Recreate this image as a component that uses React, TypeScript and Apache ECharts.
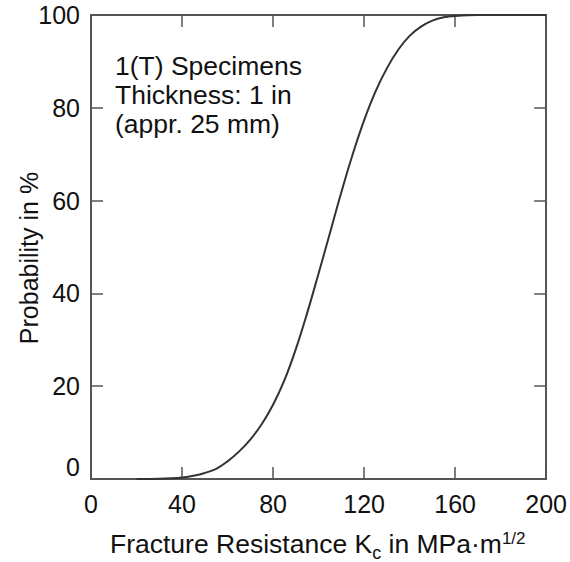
import React, { useEffect, useRef } from "react";
import * as echarts from "echarts";

const kcValues = [20, 30, 40, 45, 50, 55, 60, 65, 70, 75, 80, 85, 90, 95, 100, 105, 110, 115, 120, 125, 130, 135, 140, 145, 150, 155, 160, 170, 200];
const probValues = [0, 0.05, 0.3, 0.7, 1.3, 2.2, 3.8, 5.9, 8.5, 11.8, 16.0, 21.3, 28.0, 35.8, 44.3, 53.0, 61.8, 70.0, 77.3, 83.5, 88.5, 92.5, 95.5, 97.5, 98.8, 99.5, 99.8, 100, 100];
const annotationLines = ["1(T) Specimens", "Thickness: 1 in", "(appr. 25 mm)"];
const xTitleParts = ["Fracture Resistance K", "c", " in MPa·m", "1/2"];
const yTitle = "Probability in %";

const FONT = '"Liberation Sans", Arial, Helvetica, sans-serif';

function measure(text: string, size: number): number {
  const c = document.createElement("canvas").getContext("2d");
  if (!c) return text.length * size * 0.55;
  c.font = `${size}px ${FONT}`;
  return c.measureText(text).width;
}

export default function App() {
  const ref = useRef<HTMLDivElement>(null);
  useEffect(() => {
    if (!ref.current) return;
    const chart = echarts.init(ref.current, null, { renderer: "svg" });
    const axisColor = "#555";
    const baseSize = 26.5;
    const subSize = 18;
    const supSize = 17;
    const x0 = 110;
    const w0 = measure(xTitleParts[0], baseSize);
    const w1 = measure(xTitleParts[1], subSize);
    const w2 = measure(xTitleParts[2], baseSize);
    const baseY = 553 - 0.35 * baseSize;
    const axisLine = { onZero: false, lineStyle: { color: axisColor, width: 2 } };
    const axisTick = { inside: true, length: 12, lineStyle: { color: axisColor, width: 1.5 } };
    const xAxisCommon = {
      type: "value",
      min: 0,
      max: 200,
      interval: 40,
      splitLine: { show: false },
      axisLine,
      axisTick,
    };
    const yAxisCommon = {
      type: "value",
      min: 0,
      max: 100,
      interval: 20,
      splitLine: { show: false },
      axisLine,
      axisTick,
    };
    const textStyle = (size: number) => ({ fontSize: size, fontFamily: FONT, fill: "#111" });
    chart.setOption({
      animation: false,
      grid: { left: 91, top: 15, right: 15, bottom: 83 },
      xAxis: [
        { ...xAxisCommon, position: "bottom", axisLabel: { fontSize: 25, color: "#111", fontFamily: FONT, margin: 12 } },
        { ...xAxisCommon, position: "top", axisLabel: { show: false } },
      ],
      yAxis: [
        {
          ...yAxisCommon,
          position: "left",
          axisLabel: { fontSize: 25, color: "#111", fontFamily: FONT, margin: 11, verticalAlignMinLabel: "bottom" },
        },
        { ...yAxisCommon, position: "right", axisLabel: { show: false } },
      ],
      series: [
        {
          type: "line",
          xAxisIndex: 0,
          yAxisIndex: 0,
          data: kcValues.map((k, i) => [k, probValues[i]]),
          smooth: 0.4,
          showSymbol: false,
          lineStyle: { color: "#333", width: 2 },
        },
      ],
      graphic: [
        ...annotationLines.map((t, i) => ({
          type: "text",
          x: 115,
          y: 65.5 + i * 29,
          style: { text: t, ...textStyle(26.5), verticalAlign: "middle", align: "left" },
        })),
        { type: "text", x: x0, y: baseY, style: { text: xTitleParts[0], ...textStyle(baseSize), verticalAlign: "middle" } },
        { type: "text", x: x0 + w0, y: 559 - 0.35 * subSize, style: { text: xTitleParts[1], ...textStyle(subSize), verticalAlign: "middle" } },
        { type: "text", x: x0 + w0 + w1, y: baseY, style: { text: xTitleParts[2], ...textStyle(baseSize), verticalAlign: "middle" } },
        { type: "text", x: x0 + w0 + w1 + w2, y: 544 - 0.35 * supSize, style: { text: xTitleParts[3], ...textStyle(supSize), verticalAlign: "middle" } },
        {
          type: "text",
          x: 29,
          y: 258,
          rotation: Math.PI / 2,
          style: { text: yTitle, ...textStyle(25), align: "center", verticalAlign: "middle" },
        },
      ],
    });
    return () => chart.dispose();
  }, []);
  return <div ref={ref} style={{ width: 570, height: 562, position: "absolute", left: 0, top: 0 }} />;
}
